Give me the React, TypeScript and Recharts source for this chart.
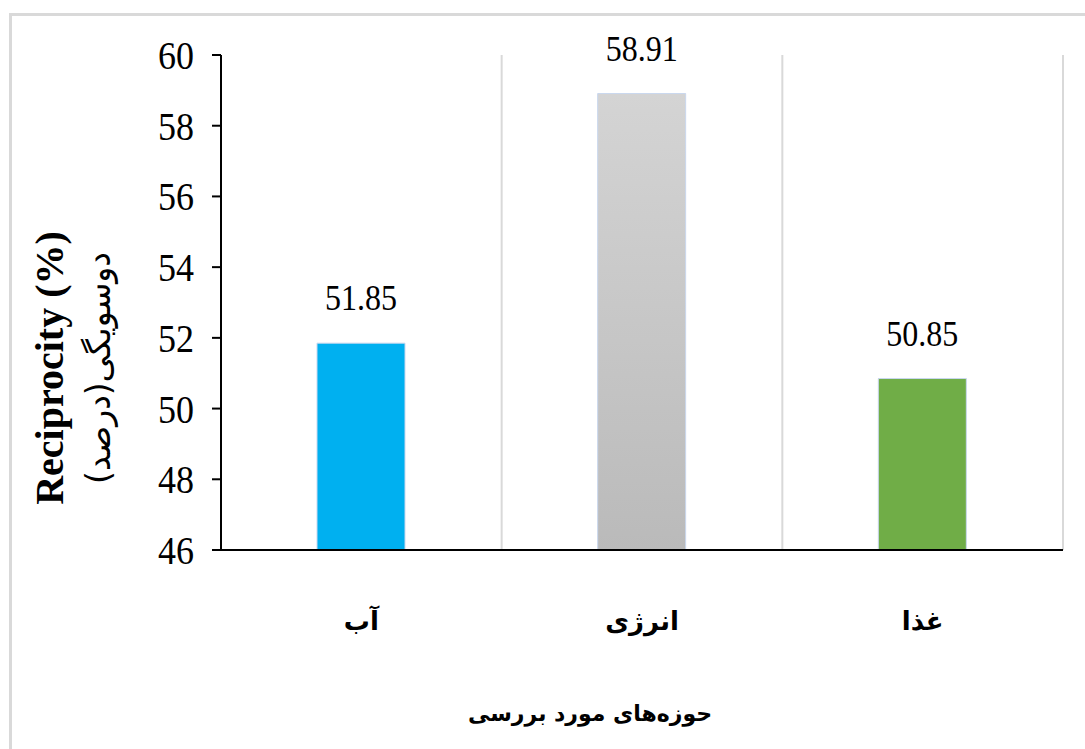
import React from "react";
import {
  Bar,
  BarChart,
  CartesianGrid,
  Cell,
  LabelList,
  XAxis,
  YAxis,
} from "recharts";

const categories = ["آب", "انرژی", "غذا"];
const reciprocity = [51.85, 58.91, 50.85];
const barColors = ["#00b0f0", "url(#grayGrad)", "#70ad47"];
const yTicks = [46, 48, 50, 52, 54, 56, 58, 60];

const data = categories.map((name, i) => ({ name, value: reciprocity[i] }));

const serif = "'Times New Roman', 'Liberation Serif', serif";
const arabic = "'DejaVu Sans', 'Noto Sans', sans-serif";

function YTitle() {
  const cy = 368;
  return (
    <g>
      <text
        x={63}
        y={cy}
        transform={`rotate(-90, 63, ${cy})`}
        textAnchor="middle"
        style={{ fontFamily: serif, fontWeight: "bold", fontSize: 40 }}
        fill="#000"
      >
        Reciprocity (%)
      </text>
      <text
        x={110}
        y={cy}
        transform={`rotate(-90, 110, ${cy})`}
        textAnchor="middle"
        style={{ fontFamily: arabic, fontSize: 33 }}
        fill="#000"
      >
        دوسویگی(درصد)
      </text>
    </g>
  );
}

function XTitle() {
  return (
    <text
      x={590}
      y={721}
      textAnchor="middle"
      style={{ fontFamily: arabic, fontWeight: "bold", fontSize: 22 }}
      fill="#000"
    >
      حوزه‌های مورد بررسی
    </text>
  );
}

function XTick({ x, y, payload }: any) {
  return (
    <text
      x={x}
      y={y + 72}
      textAnchor="middle"
      style={{ fontFamily: arabic, fontWeight: "bold", fontSize: 26 }}
      fill="#000"
    >
      {payload.value}
    </text>
  );
}

// numbers in the source look a bit taller than plain Times
function YTick({ x, y, payload }: any) {
  return (
    <text
      transform={`translate(${x}, ${y + 14}) scale(1, 1.14)`}
      textAnchor="end"
      style={{ fontFamily: serif, fontSize: 36 }}
      fill="#000"
    >
      {payload.value}
    </text>
  );
}

function ValueLabel({ x, y, width, value }: any) {
  return (
    <text
      transform={`translate(${x + width / 2}, ${y - 33}) scale(1, 1.14)`}
      textAnchor="middle"
      style={{ fontFamily: serif, fontSize: 32 }}
      fill="#000"
    >
      {Number(value).toFixed(2)}
    </text>
  );
}

export default function App() {
  return (
    <div
      style={{
        position: "absolute",
        left: 0,
        top: 0,
        width: 1085,
        height: 749,
        overflow: "hidden",
        background: "#fff",
      }}
    >
      <div
        style={{
          position: "absolute",
          left: 9,
          top: 13,
          width: 1200,
          height: 900,
          border: "3px solid #d9d9d9",
        }}
      />
      <div style={{ position: "absolute", left: 0, top: 0 }}>
        <BarChart
          width={1085}
          height={749}
          data={data}
          margin={{ top: 55, right: 22, bottom: 0, left: 0 }}
          barSize={88}
        >
          <defs>
            <linearGradient id="grayGrad" x1="0" y1="0" x2="0" y2="1">
              <stop offset="0%" stopColor="#d4d4d4" />
              <stop offset="100%" stopColor="#bababa" />
            </linearGradient>
          </defs>
          <CartesianGrid
            horizontal={false}
            stroke="#d9d9d9"
            strokeWidth={2}
            verticalCoordinatesGenerator={({ offset }: any) =>
              categories.map(
                (_, i) => offset.left + ((i + 1) * offset.width) / categories.length
              )
            }
          />
          <XAxis
            dataKey="name"
            height={199}
            axisLine={{ stroke: "#000", strokeWidth: 2 }}
            tickLine={false}
            tick={<XTick />}
            label={XTitle}
          />
          <YAxis
            width={221}
            domain={[46, 60]}
            ticks={yTicks}
            interval={0}
            axisLine={{ stroke: "#000", strokeWidth: 2 }}
            tickLine={{ stroke: "#000", strokeWidth: 2 }}
            tickSize={9}
            tickMargin={18}
            tick={<YTick />}
            label={YTitle}
          />
          <Bar
            dataKey="value"
            isAnimationActive={false}
            stroke="#c9d7ee"
            strokeWidth={1}
          >
            {data.map((d, i) => (
              <Cell key={d.name} fill={barColors[i]} />
            ))}
            <LabelList dataKey="value" content={ValueLabel} />
          </Bar>
        </BarChart>
      </div>
    </div>
  );
}
